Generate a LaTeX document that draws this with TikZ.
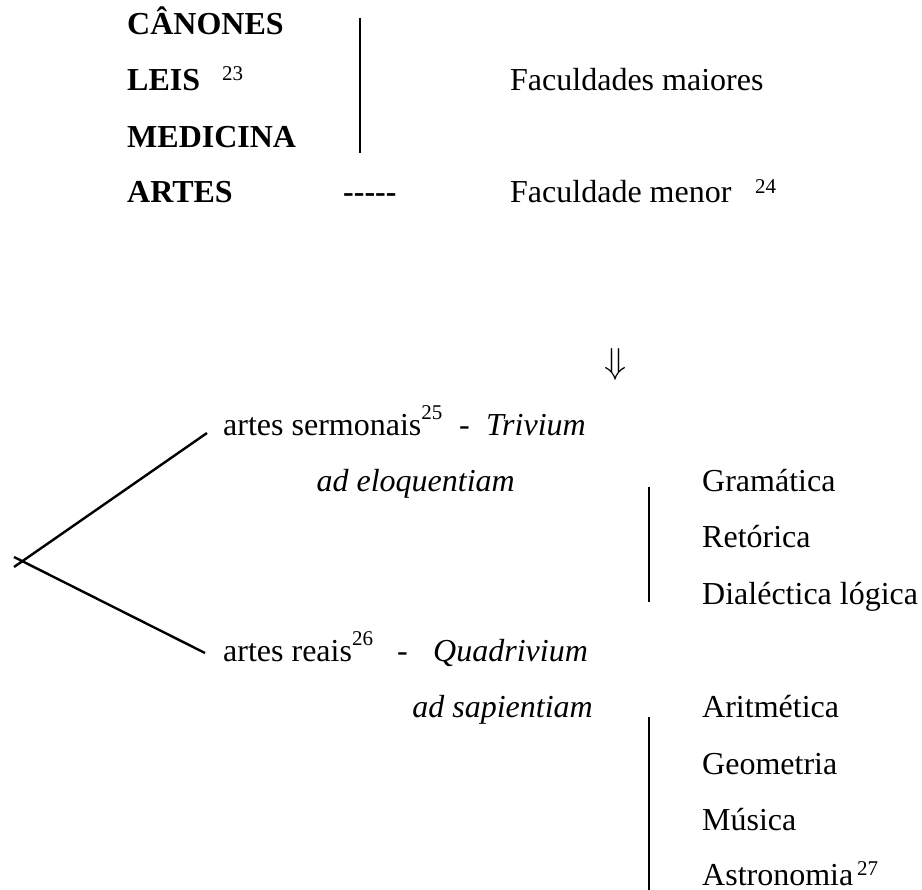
\documentclass[tikz,border=0pt]{standalone}
\usepackage{fontspec}
\usepackage{graphicx}
\setmainfont{Liberation Serif}
\newcommand{\supr}[2]{\raisebox{#1pt}{\fontsize{21}{24}\selectfont #2}}
\begin{document}
\begin{tikzpicture}[x=1pt,y=-1pt,
  txt/.style={anchor=base west,inner sep=0pt,font=\fontsize{32}{38}\selectfont},
  btxt/.style={txt,font=\fontsize{32}{38}\selectfont\bfseries},
  itxt/.style={txt,font=\fontsize{32}{38}\selectfont\itshape},
  bar/.style={line width=2.6pt},
  branch/.style={line width=2.4pt}]
\useasboundingbox (0,0) rectangle (922,890);
% upper block
\node[btxt] (can) at (127,35) {CÂNONES};
\node[btxt] (leis) at (127,91) {LEIS};
\node[txt,font=\fontsize{21}{24}\selectfont] (s23) at (222,81) {23};
\node[btxt] (med) at (127,148) {MEDICINA};
\node[btxt] (art) at (127,203) {ARTES};
\node[btxt] (dash) at (343,203) {-{}-{}-{}-{}-};
\coordinate (b1t) at (360,18);
\coordinate (b1b) at (360,153);
\draw[bar] (b1t) -- (b1b);
\node[txt] (maior) at (510,91) {Faculdades maiores};
\node[txt] (menor) at (510,203) {Faculdade menor};
\node[txt,font=\fontsize{21}{24}\selectfont] (s24) at (755,194) {24};
% arrow
\node[inner sep=0pt,font=\fontsize{32}{38}\selectfont] (arr) at (616,364) {\scalebox{1.45}{$\Downarrow$}};
% trivium
\node[txt] (serm) at (223,436) {artes sermonais\supr{16}{25}};
\node[txt] (h1) at (459,436) {-};
\node[itxt] (triv) at (486,436) {Trivium};
\node[itxt,anchor=base east] (eloq) at (515,492) {ad eloquentiam};
\coordinate (b2t) at (649,487);
\coordinate (b2b) at (649,602);
\draw[bar] (b2t) -- (b2b);
\node[txt] (gram) at (702,492) {Gramática};
\node[txt] (ret) at (702,548) {Retórica};
\node[txt] (dial) at (702,605) {Dialéctica lógica};
% quadrivium
\node[txt] (reais) at (223,661) {artes reais\supr{16}{26}};
\node[txt] (h2) at (397,661) {-};
\node[itxt] (quad) at (433,661) {Quadrivium};
\node[itxt,anchor=base east] (sap) at (593,717) {ad sapientiam};
\coordinate (b3t) at (649,717);
\coordinate (b3b) at (649,890);
\draw[bar] (b3t) -- (b3b);
\node[txt] (arit) at (702,717) {Aritmética};
\node[txt] (geo) at (702,774) {Geometria};
\node[txt] (mus) at (702,830) {Música};
\node[txt] (astr) at (702,885) {Astronomia};
\node[txt,font=\fontsize{21}{24}\selectfont] (s27) at (857,875) {27};
% branches
\coordinate (u1) at (207,433);
\coordinate (u2) at (14,567);
\coordinate (l1) at (14,557);
\coordinate (l2) at (205,653);
\draw[branch] (u1) -- (u2);
\draw[branch] (l1) -- (l2);
\end{tikzpicture}
\end{document}
